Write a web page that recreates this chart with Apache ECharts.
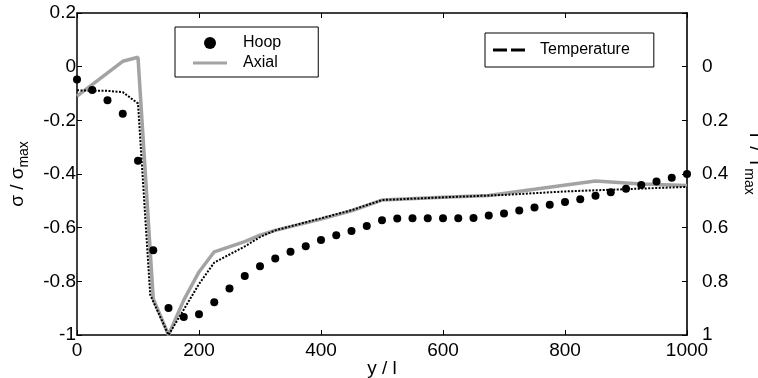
<!DOCTYPE html>
<html><head><meta charset="utf-8">
<script src="https://cdn.jsdelivr.net/npm/echarts@6/dist/echarts.min.js"></script>
<style>html,body{margin:0;padding:0;background:#fff}#c{width:758px;height:378px}</style>
</head><body><div id="c"></div>
<script>
// Hoop stress (sigma / sigma_max), markers
const hoopX = [0,25,50,75,100,125,150,175,200,225,250,275,300,325,350,375,400,425,450,475,500,525,550,575,600,625,650,675,700,725,750,775,800,825,850,875,900,925,950,975,1000];
const hoopY = [-0.048,-0.087,-0.125,-0.175,-0.351,-0.684,-0.899,-0.933,-0.923,-0.878,-0.827,-0.780,-0.744,-0.715,-0.690,-0.669,-0.646,-0.628,-0.612,-0.594,-0.572,-0.566,-0.565,-0.565,-0.565,-0.565,-0.564,-0.555,-0.547,-0.536,-0.525,-0.515,-0.504,-0.494,-0.481,-0.468,-0.455,-0.441,-0.428,-0.414,-0.400];
// Axial stress (sigma / sigma_max), grey line
const axialX = [0,75,100,125,150,175,200,225,275,300,325,400,450,500,600,675,750,850,925,1000];
const axialY = [-0.11,0.02,0.035,-0.865,-1.0,-0.87,-0.765,-0.69,-0.652,-0.628,-0.61,-0.568,-0.537,-0.497,-0.487,-0.48,-0.457,-0.426,-0.437,-0.443];
// Temperature (T / T_max), right inverted axis
const tempX = [0,25,50,75,100,120,150,175,200,225,250,275,300,325,400,450,500,600,700,800,1000];
const tempY = [0.088,0.09,0.09,0.095,0.137,0.85,1.0,0.905,0.81,0.73,0.70,0.67,0.635,0.61,0.565,0.535,0.497,0.487,0.478,0.465,0.448];

const zip = (a, b) => a.map((v, i) => [v, b[i]]);
const FONT = '"Liberation Sans", Arial, Helvetica, sans-serif';
const axisLine = { show: true, onZero: false, lineStyle: { color: '#000', width: 1.5 } };
const axisTick = { show: true, inside: true, length: 5, lineStyle: { color: '#000', width: 1 } };
const fmt = v => String(Math.round(v * 10) / 10);

const chart = echarts.init(document.getElementById('c'), null, { renderer: 'canvas' });
chart.setOption({
  animation: false,
  backgroundColor: '#fff',
  textStyle: { fontFamily: FONT },
  grid: { left: 77, right: 71, top: 13, bottom: 43, containLabel: false, outerBoundsMode: 'none' },
  legend: [
    {
      data: [
        { name: 'Hoop', icon: 'circle', itemStyle: { color: '#000', opacity: 1 } },
        { name: 'Axial', icon: 'path://M0 4.5H34V7.5H0Z M0 0H0.01V0.01H0Z M0 12H0.01V11.99H0Z', itemStyle: { color: '#a3a3a3' } }
      ],
      orient: 'vertical',
      left: 175, top: 27,
      itemWidth: 34, itemHeight: 12, itemGap: 4,
      padding: [8, 37, 6, 18],
      borderColor: '#000', borderWidth: 1,
      backgroundColor: '#fff',
      selectedMode: false,
      textStyle: { fontFamily: FONT, fontSize: 16, color: '#000', padding: [0, 0, 0, 11] }
    },
    {
      data: [{ name: 'Temperature', icon: 'path://M0 5.5H14V8.5H0Z M18 5.5H32V8.5H18Z M0 0H0.01V0.01H0Z M0 14H0.01V13.99H0Z', itemStyle: { color: '#000' } }],
      left: 485, top: 33,
      itemWidth: 32, itemHeight: 14, itemGap: 0,
      padding: [9, 24, 9, 8],
      borderColor: '#000', borderWidth: 1,
      backgroundColor: '#fff',
      selectedMode: false,
      textStyle: { fontFamily: FONT, fontSize: 16, color: '#000', padding: [0, 0, 0, 10] }
    }
  ],
  xAxis: [
    {
      type: 'value', min: 0, max: 1000, interval: 200, position: 'bottom',
      axisLine, axisTick, splitLine: { show: false },
      axisLabel: { fontFamily: FONT, fontSize: 19, color: '#000', margin: 6, formatter: v => String(v) },
      name: 'y / l', nameLocation: 'middle', nameGap: 24, nameMoveOverlap: false,
      nameTextStyle: { fontFamily: FONT, fontSize: 19, color: '#000' }
    },
    {
      type: 'value', min: 0, max: 1000, interval: 200, position: 'top',
      axisLine, axisTick, splitLine: { show: false }, axisLabel: { show: false }
    }
  ],
  yAxis: [
    {
      type: 'value', min: -1, max: 0.2, interval: 0.2, position: 'left',
      axisLine, axisTick, splitLine: { show: false },
      axisLabel: { fontFamily: FONT, fontSize: 19, color: '#000', margin: 1, formatter: fmt },
      name: '{a|σ / σ}{s|max}', nameLocation: 'middle', nameGap: 46, nameRotate: 90,
      nameTextStyle: { fontFamily: FONT, color: '#000',
        rich: { a: { fontFamily: FONT, fontSize: 19, color: '#000' },
                s: { fontFamily: FONT, fontSize: 14, color: '#000', padding: [12, 0, 0, 0] } } }
    },
    {
      type: 'value', min: -0.2, max: 1, interval: 0.2, position: 'right', inverse: true,
      axisLine: { show: true, onZero: false, lineStyle: { color: '#333', width: 2 } }, axisTick, splitLine: { show: false },
      axisLabel: { fontFamily: FONT, fontSize: 19, color: '#000', margin: 15,
        formatter: v => (v < -0.1 ? '' : fmt(v)) },
      name: '{a|T / T}{s|max}', nameLocation: 'middle', nameGap: 55, nameRotate: -90, nameMoveOverlap: false,
      nameTextStyle: { fontFamily: FONT, color: '#000', padding: [0, 24, 0, 0],
        rich: { a: { fontFamily: FONT, fontSize: 19, color: '#000' },
                s: { fontFamily: FONT, fontSize: 14, color: '#000', padding: [12, 0, 0, 0] } } }
    }
  ],
  series: [
    {
      name: 'Axial', type: 'line', xAxisIndex: 0, yAxisIndex: 0,
      data: zip(axialX, axialY), symbol: 'none',
      lineStyle: { color: '#a3a3a3', width: 3.5 }, itemStyle: { color: '#a3a3a3' }, z: 2
    },
    {
      name: 'Temperature', type: 'line', xAxisIndex: 0, yAxisIndex: 1,
      data: zip(tempX, tempY), symbol: 'none',
      lineStyle: { color: '#000', width: 2, type: [2, 1.5] }, itemStyle: { color: '#000' }, z: 3
    },
    {
      name: 'Hoop', type: 'scatter', xAxisIndex: 0, yAxisIndex: 0,
      data: zip(hoopX, hoopY), symbol: 'circle', symbolSize: 8,
      itemStyle: { color: '#000', opacity: 1 }, z: 4
    }
  ]
});
</script>
</body></html>
